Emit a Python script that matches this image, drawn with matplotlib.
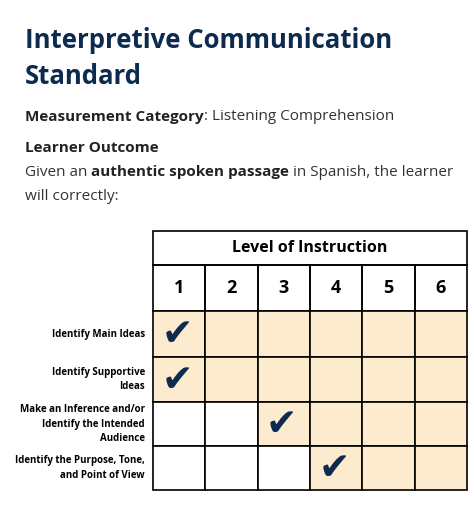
import matplotlib.pyplot as plt
from matplotlib.patches import Rectangle

levels = [1, 2, 3, 4, 5, 6]
outcomes = ["Identify Main Ideas", "Identify Supportive\nIdeas",
            "Make an Inference and/or\nIdentify the Intended\nAudience",
            "Identify the Purpose, Tone,\nand Point of View"]
checked_level = [1, 1, 3, 4]

navy = "#0d2a4f"
shade = "#fdebd0"
plt.rcParams['font.family'] = ['Open Sans', 'DejaVu Sans']

fig = plt.figure(figsize=(4.74, 5.26), dpi=100)
ax = fig.add_axes([0, 0, 1, 1])
ax.set_xlim(0, 474)
ax.set_ylim(526, 0)
ax.axis('off')
renderer = fig.canvas.get_renderer()


def run(x, y, parts):
    # draw pieces of text one after another on a line
    for txt, bold in parts:
        t = ax.text(x, y, txt, fontsize=11, fontweight='bold' if bold else 'normal',
                    color='#222222' if bold else '#333333', va='center')
        bb = t.get_window_extent(renderer)
        x += bb.width


ax.text(25, 40, "Interpretive Communication", fontsize=18.5, fontweight='bold', color=navy, va='center')
ax.text(25, 76, "Standard", fontsize=18.5, fontweight='bold', color=navy, va='center')
run(25, 117, [("Measurement Category", True), (": Listening Comprehension", False)])
run(25, 148, [("Learner Outcome", True)])
run(25, 172, [("Given an ", False), ("authentic spoken passage", True), (" in Spanish, the learner", False)])
run(25, 196, [("will correctly:", False)])

left, right = 153, 467
top, head, numrow = 231, 265, 311
row_edges = [311, 357, 402, 446, 490]
cw = (right - left) / len(levels)

ax.add_patch(Rectangle((left, top), right - left, head - top, fill=False, ec='black', lw=1.2))
ax.text((left + right) / 2, (top + head) / 2, "Level of Instruction", fontsize=11.5,
        fontweight='bold', ha='center', va='center')
for i, lv in enumerate(levels):
    x = left + i * cw
    ax.add_patch(Rectangle((x, head), cw, numrow - head, fill=False, ec='black', lw=1.2))
    ax.text(x + cw / 2, (head + numrow) / 2, str(lv), fontsize=13, fontweight='bold',
            ha='center', va='center')

for r, (label, chk) in enumerate(zip(outcomes, checked_level)):
    y0, y1 = row_edges[r], row_edges[r + 1]
    for i, lv in enumerate(levels):
        x = left + i * cw
        fc = shade if lv >= chk else 'white'
        ax.add_patch(Rectangle((x, y0), cw, y1 - y0, fc=fc, ec='black', lw=1.2))
        if lv == chk:
            ax.text(x + cw / 2 - 2, (y0 + y1) / 2 + 1, "\u2714", fontsize=27, color=navy,
                    ha='center', va='center', family='DejaVu Sans')
    ax.text(145, (y0 + y1) / 2, label, fontsize=7, fontweight='bold', ha='right',
            va='center', linespacing=1.4)

fig.savefig("out.png", dpi=100)
